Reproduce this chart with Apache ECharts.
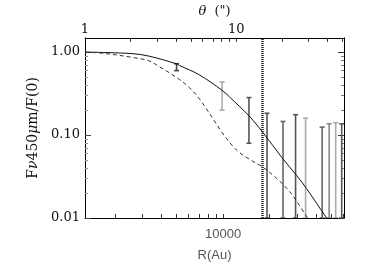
<!DOCTYPE html>
<html>
<head>
<meta charset="utf-8">
<script src="https://cdn.jsdelivr.net/npm/echarts@6/dist/echarts.min.js"></script>
<style>html,body{margin:0;padding:0;background:#fff}#c{width:370px;height:273px}</style>
</head>
<body>
<div id="c"></div>
<script>
// ---- data (R in AU, F normalised) ----
const rRange = [1283, 60400];
const thetaRange = [1, 51.5];
const fRange = [0.01, 1.483];

const solidR = [1283, 2586, 3333, 4984, 5212, 7023, 9896, 10985, 14805, 17970, 24216, 29830, 34635, 46666, 52000];
const solidF = [1.0, 0.959, 0.893, 0.724, 0.692, 0.532, 0.344, 0.289, 0.168, 0.109, 0.0523, 0.0326, 0.0226, 0.0100, 0.0078];

const dashR = [1283, 1581, 2586, 3333, 3868, 4489, 5212, 6049, 7023, 8523, 9896, 12190, 14805, 17970, 22140, 26878, 31206, 35156, 38000];
const dashF = [0.992, 0.979, 0.864, 0.783, 0.669, 0.564, 0.469, 0.375, 0.274, 0.162, 0.106, 0.0663, 0.051, 0.0413, 0.0301, 0.0209, 0.0141, 0.0100, 0.0085];

const errR    = [5007, 9851, 14694, 19221, 24393, 29393, 34120, 43640, 48440, 53380, 58370];
const errHigh = [0.724, 0.436, 0.283, 0.183, 0.1458, 0.176, 0.160, 0.1245, 0.137, 0.141, 0.1365];
const errLow  = [0.598, 0.200, 0.0796, 0.01, 0.01, 0.01, 0.01, 0.01, 0.01, 0.01, 0.01];

const cutR = [17970];

const rTicks = [2000, 3000, 4000, 5000, 6000, 7000, 8000, 9000, 10000, 20000, 30000, 40000, 50000, 60000];
const rLabels = [10000];
const thetaTicks = [2, 3, 4, 5, 6, 7, 8, 9, 10, 20, 30, 40, 50];
const thetaLabels = [1, 10];
const fTickMajor = [0.01, 0.1, 1];
const fTickMinor = [0.02, 0.03, 0.04, 0.05, 0.06, 0.07, 0.08, 0.09, 0.2, 0.3, 0.4, 0.5, 0.6, 0.7, 0.8, 0.9];
const fLabels = [0.01, 0.1, 1];

// ---- styles ----
const barColors = ['#444', '#aaa', '#555', '#555', '#666', '#555', '#aaa', '#666', '#888', '#aaa', '#555'];
const L = Math.log10;
const serif = 'DejaVu Serif';

const chart = echarts.init(document.getElementById('c'), null, {renderer: 'canvas'});

function baseX(range, pos, extra) {
  return Object.assign({
    type: 'value', position: pos, gridIndex: 0,
    min: L(range[0]), max: L(range[1]),
    splitLine: {show: false},
    axisLine: {show: true, onZero: false, lineStyle: {color: '#000', width: 1}},
  }, extra);
}
function baseY(pos, extra) {
  return Object.assign({
    type: 'value', position: pos, gridIndex: 0,
    min: L(fRange[0]), max: L(fRange[1]),
    splitLine: {show: false},
    axisLine: {show: true, onZero: false, lineStyle: {color: '#000', width: 1}},
  }, extra);
}

const option = {
  animation: false,
  backgroundColor: '#fff',
  grid: {left: 85, right: 26, top: 28, bottom: 55, containLabel: false},
  xAxis: [
    baseX(rRange, 'bottom', {
      name: 'R(Au)', nameLocation: 'middle', nameGap: 31,
      nameTextStyle: {fontFamily: 'Liberation Sans', fontSize: 13, color: '#555'},
      axisTick: {inside: true, length: 4, customValues: rTicks.map(L), lineStyle: {color: '#333'}},
      axisLabel: {customValues: rLabels.map(L), margin: 10, fontFamily: 'Liberation Sans', fontSize: 13, color: '#555',
        formatter: v => String(Math.round(Math.pow(10, v)))}
    }),
    baseX(thetaRange, 'top', {
      name: '{i|θ}  (")', nameLocation: 'middle', nameGap: 12,
      nameTextStyle: {fontFamily: serif, fontSize: 13, color: '#111', rich: {i: {fontFamily: serif, fontStyle: 'italic', fontSize: 13}}},
      axisTick: {inside: true, length: 4, customValues: thetaTicks.map(L), lineStyle: {color: '#333'}},
      axisLabel: {customValues: thetaLabels.map(L), margin: 2, fontFamily: serif, fontSize: 13, color: '#111',
        formatter: v => String(Math.round(Math.pow(10, v)))}
    })
  ],
  yAxis: [
    baseY('left', {
      name: 'F{i|ν}450{i|μ}m/F(0)', nameLocation: 'middle', nameGap: 44,
      nameTextStyle: {fontFamily: serif, fontSize: 14, color: '#111', rich: {i: {fontFamily: serif, fontStyle: 'italic', fontSize: 14}}},
      axisTick: {inside: true, length: 6, customValues: fTickMajor.map(L), lineStyle: {color: '#444'}},
      axisLabel: {customValues: fLabels.map(L), margin: 5, fontFamily: serif, fontSize: 13, color: '#111',
        formatter: v => Math.pow(10, v).toFixed(2)}
    }),
    baseY('left', {
      axisLine: {show: false},
      axisTick: {inside: true, length: 3, customValues: fTickMinor.map(L), lineStyle: {color: '#999'}},
      axisLabel: {show: false}
    }),
    baseY('right', {
      axisTick: {inside: true, length: 6, customValues: fTickMajor.map(L), lineStyle: {color: '#333'}},
      axisLabel: {show: false}
    }),
    baseY('right', {
      axisLine: {show: false},
      axisTick: {inside: true, length: 3, customValues: fTickMinor.map(L), lineStyle: {color: '#777'}},
      axisLabel: {show: false}
    })
  ],
  series: [
    {
      type: 'line', xAxisIndex: 0, yAxisIndex: 0, showSymbol: false, smooth: 0.35, clip: true,
      data: solidR.map((r, i) => [L(r), L(solidF[i])]),
      lineStyle: {color: '#111', width: 1}
    },
    {
      type: 'line', xAxisIndex: 0, yAxisIndex: 0, showSymbol: false, smooth: 0.35, clip: true,
      data: dashR.map((r, i) => [L(r), L(dashF[i])]),
      lineStyle: {color: '#333', width: 1, type: [4, 3]}
    },
    {
      type: 'line', xAxisIndex: 0, yAxisIndex: 0, showSymbol: false, clip: true,
      data: [[L(cutR[0]), L(fRange[0])], [L(cutR[0]), L(fRange[1])]],
      lineStyle: {color: '#222', width: 2.5, type: [1, 1]}
    },
    {
      type: 'custom', xAxisIndex: 0, yAxisIndex: 0, clip: true,
      data: errR.map((r, i) => [L(r), L(errLow[i]), L(errHigh[i])]),
      renderItem: (params, api) => {
        const x = api.value(0), lo = api.value(1), hi = api.value(2);
        const p1 = api.coord([x, hi]), p2 = api.coord([x, lo]);
        const c = barColors[params.dataIndex];
        const w = 2.5;
        const st = {stroke: c, lineWidth: 1.6};
        return {type: 'group', children: [
          {type: 'line', shape: {x1: p1[0], y1: p1[1], x2: p2[0], y2: p2[1]}, style: st},
          {type: 'line', shape: {x1: p1[0] - w, y1: p1[1], x2: p1[0] + w, y2: p1[1]}, style: st},
          {type: 'line', shape: {x1: p2[0] - w, y1: p2[1], x2: p2[0] + w, y2: p2[1]}, style: st}
        ]};
      }
    }
  ]
};
chart.setOption(option);
</script>
</body>
</html>
